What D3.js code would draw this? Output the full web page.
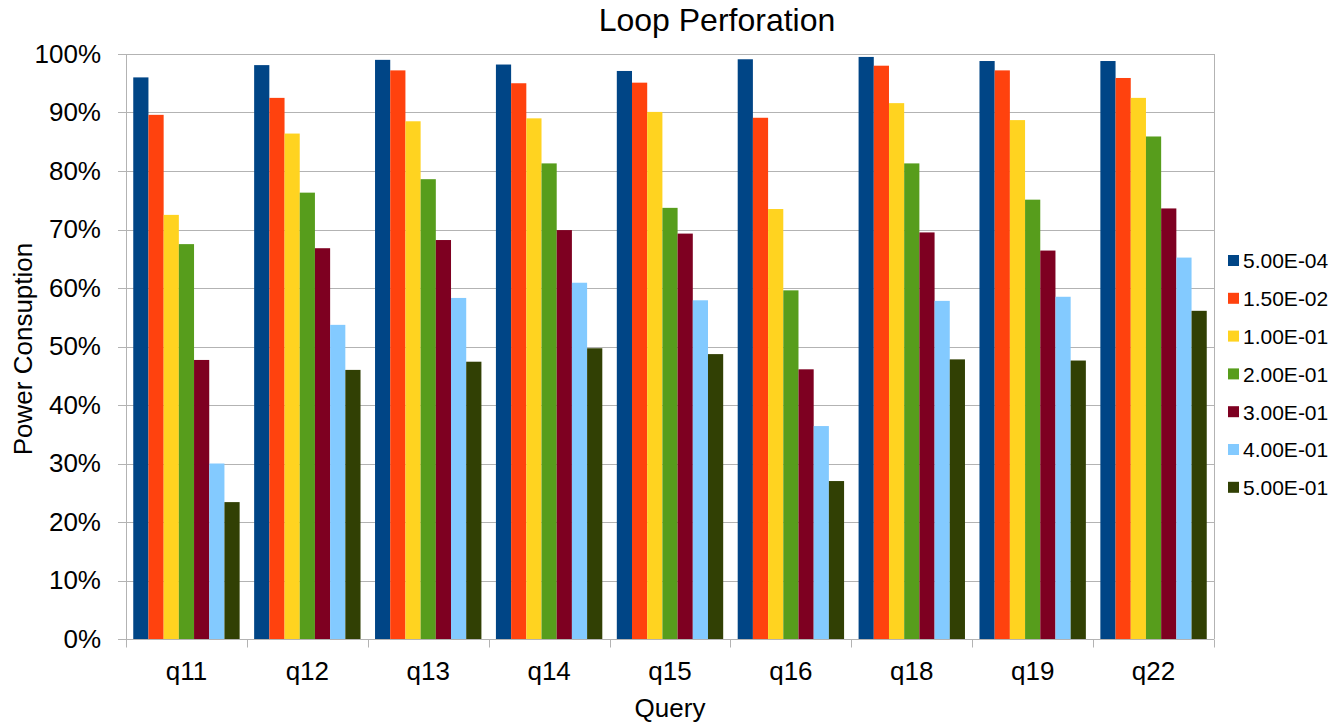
<!DOCTYPE html>
<html>
<head>
<meta charset="utf-8">
<script src="https://cdn.jsdelivr.net/npm/d3@7"></script>
<style>
	body { margin: 0; background: #fff; }
	svg { display: block; font-family: 'Liberation Sans', Arial, sans-serif; }
	.grid line { stroke: #b3b3b3; stroke-width: 1; }
	.axis path, .axis line { stroke: #b3b3b3; }
	.axis text { fill: #000; }
</style>
</head>
<body>
<script>
'use strict';

// Data
var queries = ['q11', 'q12', 'q13', 'q14', 'q15', 'q16', 'q18', 'q19', 'q22'];
var seriesNames = ['5.00E-04', '1.50E-02', '1.00E-01', '2.00E-01', '3.00E-01', '4.00E-01', '5.00E-01'];
var colors = ['#004586', '#ff420e', '#ffd320', '#579d1c', '#7e0021', '#83caff', '#314004'];
var yTicks = [0, 10, 20, 30, 40, 50, 60, 70, 80, 90, 100];

// one array per series, values in %, ordered as queries
var s5e4  = [96.0, 98.1, 99.0, 98.2, 97.1, 99.1, 99.5, 98.8, 98.8];
var s15e2 = [89.6, 92.5, 97.2, 95.0, 95.1, 89.1, 98.0, 97.2, 95.9];
var s1e1  = [72.5, 86.4, 88.5, 89.0, 90.1, 73.5, 91.6, 88.7, 92.5];
var s2e1  = [67.5, 76.3, 78.6, 81.3, 73.7, 59.6, 81.3, 75.1, 85.9];
var s3e1  = [47.7, 66.8, 68.2, 69.9, 69.3, 46.1, 69.5, 66.4, 73.6];
var s4e1  = [30.0, 53.7, 58.3, 60.9, 57.9, 36.4, 57.8, 58.5, 65.2];
var s5e1  = [23.4, 46.0, 47.4, 49.7, 48.7, 27.0, 47.8, 47.6, 56.1];
var seriesValues = [s5e4, s15e2, s1e1, s2e1, s3e1, s4e1, s5e1];

var svg = d3.select('body').append('svg')
	.attr('width', 1344)
	.attr('height', 725);

// Dimensions
var margin = {top: 54, right: 130, bottom: 86, left: 126};
var width = +svg.attr('width') - margin.left - margin.right;
var height = +svg.attr('height') - margin.top - margin.bottom;
var g = svg.append('g').attr('transform', 'translate(' + margin.left + ',' + margin.top + ')');

// Scales
var x0 = d3.scaleBand().domain(queries).range([0, width]).padding(0);
var inset = x0.bandwidth() * 0.06;
var x1 = d3.scaleBand().domain(seriesNames).range([inset, x0.bandwidth() - inset]).padding(0);
var y = d3.scaleLinear().domain([0, 100]).range([height, 0]);
var z = d3.scaleOrdinal().domain(seriesNames).range(colors);

// Grid
g.append('g').attr('class', 'grid')
	.selectAll('line')
	.data(yTicks)
	.enter().append('line')
		.attr('x1', -8)
		.attr('x2', width)
		.attr('y1', function(d) { return Math.round(y(d)) + 0.5; })
		.attr('y2', function(d) { return Math.round(y(d)) + 0.5; });

// right border
g.append('line')
	.attr('x1', width + 0.5).attr('x2', width + 0.5)
	.attr('y1', 0).attr('y2', height)
	.attr('stroke', '#b3b3b3');

// Bars
var series = seriesNames.map(function(name, i) {
	return {key: name, values: seriesValues[i].map(function(v, j) { return {q: queries[j], v: v}; })};
});

g.selectAll('.series')
	.data(series)
	.enter().append('g')
		.attr('class', 'series')
		.attr('fill', function(d) { return z(d.key); })
	.selectAll('rect')
	.data(function(d) { return d.values.map(function(e) { return {key: d.key, q: e.q, v: e.v}; }); })
	.enter().append('rect')
		.attr('x', function(d) { return x0(d.q) + x1(d.key); })
		.attr('y', function(d) { return y(d.v); })
		.attr('width', x1.bandwidth())
		.attr('height', function(d) { return height - y(d.v); });

// X Axis
var xAxis = g.append('g')
	.attr('class', 'axis axis-x')
	.attr('transform', 'translate(0,' + (height + 0.5) + ')')
	.call(d3.axisBottom(x0).tickSize(0));
xAxis.select('.domain').remove();
xAxis.append('line')
	.attr('x1', 0).attr('x2', width)
	.attr('stroke', '#b3b3b3');
xAxis.selectAll('.cat-tick')
	.data(queries.concat(['end']))
	.enter().append('line')
		.attr('class', 'cat-tick')
		.attr('x1', function(d, i) { return Math.round(i * x0.step()) + 0.5; })
		.attr('x2', function(d, i) { return Math.round(i * x0.step()) + 0.5; })
		.attr('y1', 0)
		.attr('y2', 8);
xAxis.selectAll('.tick text')
	.attr('font-size', 26)
	.attr('font-family', null)
	.attr('dy', null)
	.attr('y', 40);

// Y Axis
var yAxis = g.append('g')
	.attr('class', 'axis axis-y')
	.call(d3.axisLeft(y).tickValues(yTicks).tickSize(0).tickPadding(25)
		.tickFormat(function(d) { return d + '%'; }));
yAxis.select('.domain').remove();
yAxis.append('line')
	.attr('x1', 0.5).attr('x2', 0.5)
	.attr('y1', 0).attr('y2', height)
	.attr('stroke', '#b3b3b3');
yAxis.selectAll('.tick text')
	.attr('font-size', 26)
	.attr('font-family', null);

// Title
svg.append('text')
	.attr('x', 717)
	.attr('y', 31)
	.attr('text-anchor', 'middle')
	.attr('font-size', 32)
	.text('Loop Perforation');

// Axis titles
svg.append('text')
	.attr('x', 670)
	.attr('y', 717)
	.attr('text-anchor', 'middle')
	.attr('font-size', 26)
	.text('Query');

svg.append('text')
	.attr('transform', 'translate(32,349) rotate(-90)')
	.attr('text-anchor', 'middle')
	.attr('font-size', 26)
	.text('Power Consuption');

// Legend
var legend = svg.append('g')
	.attr('class', 'legend')
	.attr('transform', 'translate(1228,255)');

var item = legend.selectAll('.item')
	.data(seriesNames)
	.enter().append('g')
		.attr('class', 'item')
		.attr('transform', function(d, i) { return 'translate(0,' + (i * 37.8) + ')'; });

item.append('rect')
	.attr('width', 11)
	.attr('height', 11)
	.attr('fill', function(d) { return z(d); });

item.append('text')
	.attr('x', 15)
	.attr('y', 6)
	.attr('dy', '0.35em')
	.attr('font-size', 21)
	.text(function(d) { return d; });
</script>
</body>
</html>
